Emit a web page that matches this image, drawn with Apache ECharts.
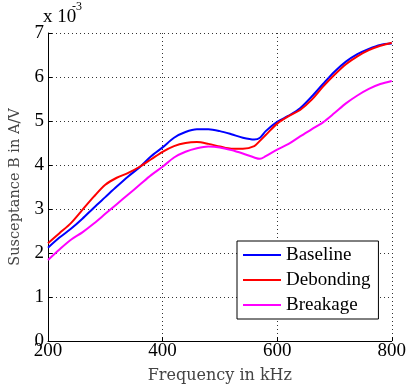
<!DOCTYPE html>
<html>
<head>
<meta charset="utf-8">
<script src="https://cdn.jsdelivr.net/npm/echarts@6/dist/echarts.min.js"></script>
<style>html,body{margin:0;padding:0;background:#fff;}#c{width:409px;height:391px;}</style>
</head>
<body>
<div id="c"></div>
<script>
var freq = [200,220,240,260,280,300,320,340,360,380,400,420,440,460,480,500,520,540,560,570,580,600,620,640,660,680,700,720,740,760,780,800];
var baseline = [2.12,2.35,2.55,2.78,3.03,3.27,3.51,3.74,3.95,4.20,4.40,4.62,4.75,4.81,4.81,4.77,4.70,4.62,4.58,4.62,4.77,4.98,5.12,5.29,5.55,5.84,6.12,6.35,6.52,6.64,6.73,6.76];
var debonding = [2.22,2.45,2.68,2.98,3.28,3.55,3.71,3.82,3.96,4.13,4.30,4.43,4.50,4.52,4.48,4.42,4.37,4.37,4.43,4.55,4.68,4.94,5.11,5.25,5.48,5.78,6.05,6.29,6.47,6.61,6.71,6.78];
var breakage = [1.84,2.08,2.30,2.47,2.67,2.89,3.11,3.33,3.55,3.77,3.96,4.17,4.30,4.38,4.42,4.40,4.34,4.26,4.17,4.14,4.20,4.35,4.48,4.65,4.81,4.97,5.18,5.40,5.58,5.73,5.84,5.91];
var seriesNames = ['Baseline','Debonding','Breakage'];
var seriesColors = ['#0000ff','#ff0000','#ff00ff'];
var xTitle = 'Frequency in kHz';
var yTitle = 'Susceptance B in A/V';
var expBase = 'x 10';
var expPow = '-3';

function pairs(v){ return freq.map(function(f,i){ return [f, v[i]]; }); }
var allData = [baseline, debonding, breakage];

var chart = echarts.init(document.getElementById('c'), null, {renderer:'canvas'});
var serif = 'Liberation Serif';
var gridLine = {show:true, lineStyle:{color:'#333', type:[1,3], width:1}};
chart.setOption({
  animation:false,
  backgroundColor:'#fff',
  grid:{left:44, right:16, top:33, bottom:50, containLabel:false},
  xAxis:{
    type:'value', min:200, max:800, interval:200,
    name:xTitle, nameLocation:'middle', nameGap:27,
    nameTextStyle:{fontFamily:'DejaVu Serif', fontSize:16, color:'#444'},
    axisLine:{show:true, onZero:false, lineStyle:{color:'#000', width:1}},
    axisTick:{show:true, inside:true, length:4, lineStyle:{color:'#000'}},
    axisLabel:{fontFamily:serif, fontSize:19, color:'#000', margin:1},
    splitLine:gridLine
  },
  yAxis:{
    type:'value', min:0, max:7, interval:1,
    name:yTitle, nameLocation:'middle', nameGap:25,
    nameTextStyle:{fontFamily:'DejaVu Serif', fontSize:14.5, color:'#444'},
    axisLine:{show:true, lineStyle:{color:'#000', width:1}},
    axisTick:{show:true, inside:true, length:4, lineStyle:{color:'#000'}},
    axisLabel:{fontFamily:serif, fontSize:19, color:'#000', margin:4},
    splitLine:gridLine
  },
  legend:{
    orient:'vertical', left:237, top:241,
    data:seriesNames.map(function(n){ return {name:n, icon:'rect'}; }),
    itemWidth:38, itemHeight:2, itemGap:5,
    padding:[4,8,4,6],
    borderColor:'#000', borderWidth:1, backgroundColor:'#fff',
    textStyle:{fontFamily:serif, fontSize:19, color:'#000', lineHeight:20}
  },
  graphic:[
    {type:'text', left:43, top:8, style:{text:expBase, font:'19px "Liberation Serif"', fill:'#000'}},
    {type:'text', left:72, top:1, style:{text:expPow, font:'12px "Liberation Serif"', fill:'#000'}}
  ],
  series: seriesNames.map(function(n,i){
    return {
      name:n, type:'line', data:pairs(allData[i]), symbol:'none', smooth:0.3,
      lineStyle:{color:seriesColors[i], width:2}, itemStyle:{color:seriesColors[i]}
    };
  })
});
</script>
</body>
</html>
